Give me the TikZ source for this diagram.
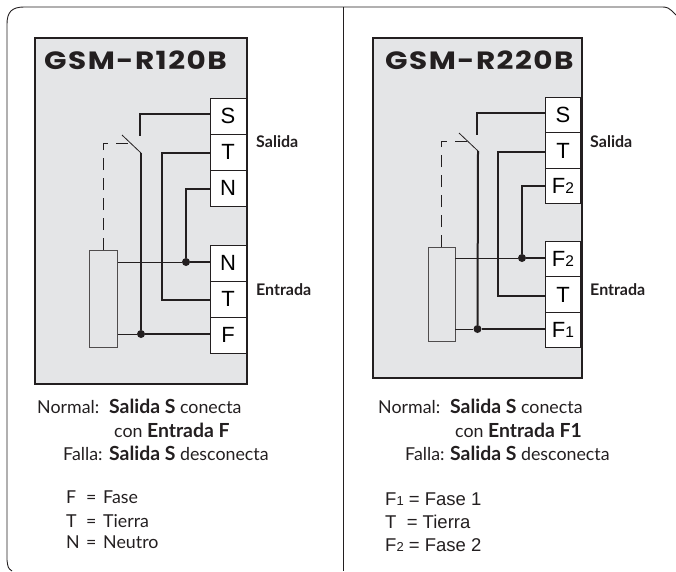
\documentclass[tikz,border=0pt]{standalone}
\usepackage{fontspec}
\setmainfont{Lato}
\setsansfont{Liberation Sans}
\newfontfamily\titlefont[LetterSpace=6,FakeStretch=1.18]{Poppins}
\definecolor{panelgray}{HTML}{E4E5E7}
\definecolor{linedark}{HTML}{231F20}
\newcommand{\sm}[1]{{\fontsize{15.5}{16}\selectfont #1}}
\newcommand{\smb}[1]{{\fontsize{13}{14}\selectfont #1}}
\newcommand{\bt}[1]{{\bfseries\fontsize{19.4}{19}\selectfont #1}}
\tikzset{
    panel/.style = {draw=linedark, fill=panelgray, line width=1.6pt, anchor=north west, inner sep=0pt},
    term/.style = {draw=linedark, fill=white, line width=.8pt, inner sep=0pt,
        minimum width=36pt, minimum height=36pt, font=\sffamily\fontsize{22}{22}\selectfont},
    coil/.style = {draw=linedark!80, fill=panelgray, line width=.8pt, inner sep=0pt, anchor=north west},
    wire/.style = {draw=linedark, line width=2pt},
    thinwire/.style = {draw=linedark, line width=.8pt},
    mech/.style = {draw=linedark, line width=.8pt, dash pattern=on 12pt off 8pt},
    dot/.style = {fill=linedark, circle, inner sep=0pt, minimum size=8pt},
    title/.style = {font=\titlefont\bfseries\fontsize{25}{26}\selectfont, anchor=base west, inner sep=0pt, text=linedark},
    side/.style = {font=\bfseries\fontsize{16}{16}\selectfont, anchor=base west, inner sep=0pt, text=linedark},
    txt/.style = {font=\fontsize{17.8}{18}\selectfont, anchor=base west, inner sep=0pt, text=linedark},
    txtsf/.style = {font=\sffamily\fontsize{18.5}{19}\selectfont, anchor=base west, inner sep=0pt, text=linedark}
}

\begin{document}
\begin{tikzpicture}[x=1pt,y=-1pt,node distance=36pt]
    \useasboundingbox (0,0) rectangle (676,571);
    % outer frame
    \coordinate (fa) at (12,571);
    \coordinate (fb) at (7,560);
    \coordinate (fc) at (7,24);
    \coordinate (fd) at (24,7);
    \coordinate (fe) at (660,7);
    \coordinate (ff) at (676,15);
    \coordinate (divtop) at (343,7);
    \coordinate (divbot) at (343,571);
    \draw[linedark,line width=.9pt] (fa) .. controls (8,568) .. (fb) -- (fc) .. controls (7,12) and (12,7) .. (fd) -- (fe) .. controls (668,7) .. (ff);
    \draw[linedark,line width=.9pt] (divtop) -- (divbot);

    % left unit
    \node[panel,minimum width=212pt,minimum height=346pt] (panelA) at (34,37) {};
    \node[title] (titleA) at (44,69) {GSM-R120B};
    \node[term] (aoS) at (228,116) {S};
    \node[term,below of=aoS] (aoT) {T};
    \node[term,below of=aoT] (aoN) {N};
    \node[term] (aiN) at (228,263) {N};
    \node[term,below of=aiN] (aiT) {T};
    \node[term,below of=aiT] (aiF) {F};
    \node[coil,minimum width=28pt,minimum height=97pt] (coilA) at (89,250) {};
    \node[dot] (dotAN) at (186,262) {};
    \node[dot] (dotAF) at (141,334) {};
    \coordinate (swAa) at (140,136);
    \coordinate (swAb) at (141,153);
    \coordinate (swAc) at (122,135);
    \coordinate (mechA) at (133,143);
    \draw[wire] ([yshift=2pt]aoS.west) -| (swAa);
    \draw[wire] ([yshift=-1pt]aoT.west) -| (162,230) |- ([yshift=-1pt]aiT.west);
    \draw[wire] ([yshift=-1pt]aoN.west) -| (dotAN);
    \draw[wire] (dotAN) -- (dotAN -| aiN.west);
    \draw[wire] (dotAF) -- (dotAF -| aiF.west);
    \draw[wire] (swAb) -- (dotAF);
    \draw[thinwire] (swAb) -- (swAc);
    \draw[thinwire] (coilA.east |- dotAN) -- (dotAN);
    \draw[thinwire] (coilA.east |- dotAF) -- (dotAF);
    \draw[mech] (coilA.north) |- (mechA);
    \node[side] (salidaA) at (256,147) {Salida};
    \node[side] (entradaA) at (256,295) {Entrada};
    \node[txt] (normalA) at (37,413) {Normal:};
    \node[txt] (condA) at (109,413) {\bt{Salida S} conecta};
    \node[txt] (conA) at (114,437) {con \bt{Entrada F}};
    \node[txt] (fallaA) at (63,460) {Falla:};
    \node[txt] (descA) at (109,460) {\bt{Salida S} desconecta};
    \node[txt] (fA) at (66,503) {F};
    \node[txt] (tA) at (66,527) {T};
    \node[txt] (nA) at (66,548) {N};
    \node[txt] (eqfA) at (86,503) {=};
    \node[txt] (eqtA) at (86,527) {=};
    \node[txt] (eqnA) at (86,548) {=};
    \node[txt] (faseA) at (103,503) {Fase};
    \node[txt] (tierraA) at (103,527) {Tierra};
    \node[txt] (neutroA) at (103,548) {Neutro};

    % right unit
    \node[panel,minimum width=209pt,minimum height=340pt] (panelB) at (372,37) {};
    \node[title] (titleB) at (385,69) {GSM-R220B};
    \node[term,minimum width=35pt,minimum height=35.5pt] (boS) at (563,115) {S};
    \node[term,minimum width=35pt,minimum height=35.5pt,below of=boS,node distance=35.5pt] (boT) {T};
    \node[term,minimum width=35pt,minimum height=35.5pt,below of=boT,node distance=35.5pt] (boF) {F\sm{2}};
    \node[term,minimum width=35pt,minimum height=35.5pt] (biF) at (563,259) {F\sm{2}};
    \node[term,minimum width=35pt,minimum height=35.5pt,below of=biF,node distance=35.5pt] (biT) {T};
    \node[term,minimum width=35pt,minimum height=35.5pt,below of=biT,node distance=35.5pt] (biG) {F\sm{1}};
    \node[coil,minimum width=27pt,minimum height=94pt] (coilB) at (427.5,247) {};
    \node[dot] (dotBN) at (522,258) {};
    \node[dot] (dotBF) at (477.5,329) {};
    \coordinate (swBa) at (477,135);
    \coordinate (swBb) at (478,151);
    \coordinate (swBc) at (459,133);
    \coordinate (mechB) at (470,141);
    \draw[wire] ([yshift=2pt]boS.west) -| (swBa);
    \draw[wire] ([yshift=-1pt]boT.west) -| (498,230) |- ([yshift=-1pt]biT.west);
    \draw[wire] (boF.west) -| (dotBN);
    \draw[wire] (dotBN) -- (dotBN -| biF.west);
    \draw[wire] (dotBF) -- (dotBF -| biG.west);
    \draw[wire] (swBb) -- (dotBF);
    \draw[thinwire] (swBb) -- (swBc);
    \draw[thinwire] (coilB.east |- dotBN) -- (dotBN);
    \draw[thinwire] (coilB.east |- dotBF) -- (dotBF);
    \draw[mech] (coilB.north) |- (mechB);
    \node[side] (salidaB) at (590,147) {Salida};
    \node[side] (entradaB) at (590,295) {Entrada};
    \node[txt] (normalB) at (378,413) {Normal:};
    \node[txt] (condB) at (450,413) {\bt{Salida S} conecta};
    \node[txt] (conB) at (455,437) {con \bt{Entrada F1}};
    \node[txt] (fallaB) at (405,460) {Falla:};
    \node[txt] (descB) at (450,460) {\bt{Salida S} desconecta};
    \node[txtsf] (fiB) at (385,505) {F\smb{1} = Fase 1};
    \node[txtsf] (tB) at (385,528) {T\ \ = Tierra};
    \node[txtsf] (fiiB) at (385,551) {F\smb{2} = Fase 2};
\end{tikzpicture}
\end{document}
